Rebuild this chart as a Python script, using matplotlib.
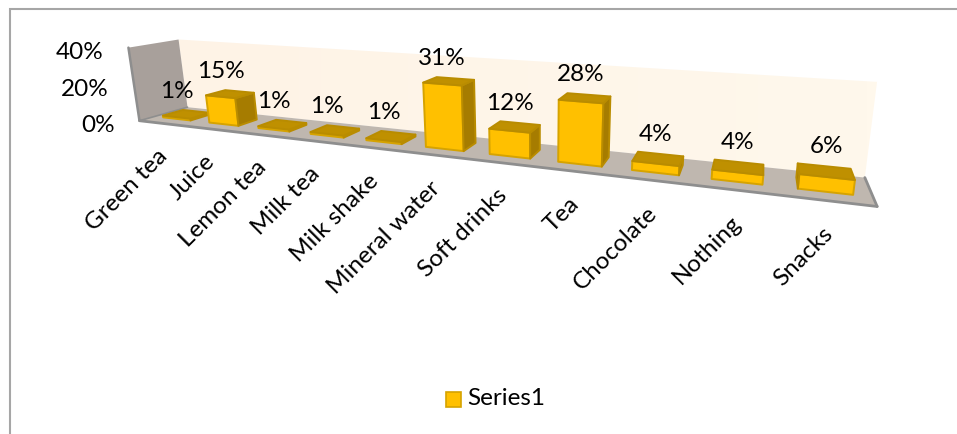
import numpy as np
import matplotlib
matplotlib.use("Agg")
import matplotlib.pyplot as plt
from matplotlib.patches import Polygon, Rectangle

plt.rcParams['font.family'] = ['Lato', 'DejaVu Sans']

categories = ["Green tea", "Juice", "Lemon tea", "Milk tea", "Milk shake",
              "Mineral water", "Soft drinks", "Tea", "Chocolate", "Nothing", "Snacks"]
values = [1, 15, 1, 1, 1, 31, 12, 28, 4, 4, 6]
value_ticks = [0, 20, 40]
series_name = "Series1"

W, H = 957, 435
FRONT = "#FFC000"
TOP = "#BF9000"
SIDE = "#A67C00"
EDGE = "#D6A300"
FONT = 17.5

# Camera calibration: box coordinates (category, depth, percent) -> canvas pixels
box = np.array([[0, 0, 0], [0, 1, 0], [11, 0, 0], [11, 1, 0],
                [0, 0, 40], [0, 1, 40], [11, 1, 40]], float)
canvas = np.array([[140, 122], [187, 108], [877, 208], [865, 178],
                   [128, 48], [179, 41], [877, 83]], float)
rows, rhs = [], []
for (x, d, z), (u, v) in zip(box, canvas):
    rows.append([x, d, z, 1, 0, 0, 0, 0, -u * x, -u * d, -u * z])
    rows.append([0, 0, 0, 0, x, d, z, 1, -v * x, -v * d, -v * z])
    rhs += [u, v]
P = np.append(np.linalg.lstsq(np.array(rows), np.array(rhs), rcond=None)[0], 1).reshape(3, 4)


def project(x, d, z):
    q = P @ np.array([x, d, z, 1.0])
    return q[:2] / q[2]


fig = plt.figure(figsize=(W / 100, H / 100), dpi=100)
ax = fig.add_axes([0, 0, 1, 1])
ax.set_xlim(0, W)
ax.set_ylim(H, 0)
ax.axis("off")

ax.add_patch(Rectangle((10, 10), W, H, fc="white", ec="#A6A6A6", lw=1.5))

# Back wall with a faint horizontal gradient
wall = np.array([project(0, 1, 0), project(11, 1, 0), project(11, 1, 40), project(0, 1, 40)])
wall_poly = Polygon(wall, fc="none", ec="none")
ax.add_patch(wall_poly)
grad = np.linspace(0, 1, 64)[None, :, None]
rgb = np.array([254, 243, 230]) / 255 * (1 - grad) + np.array([255, 248, 236]) / 255 * grad
img = ax.imshow(rgb, extent=(wall[:, 0].min(), wall[:, 0].max(), wall[:, 1].max(), wall[:, 1].min()),
                aspect="auto", zorder=1)
img.set_clip_path(wall_poly)
ax.set_xlim(0, W)
ax.set_ylim(H, 0)

# Side wall and floor
ax.add_patch(Polygon([project(0, 0, 0), project(0, 1, 0), project(0, 1, 40), project(0, 0, 40)],
                     fc="#A8A09B", ec="none", zorder=2))
ax.add_patch(Polygon([project(0, 0, 0), project(11, 0, 0), project(11, 1, 0), project(0, 1, 0)],
                     fc="#BFB7AF", ec="none", zorder=2))
for a, b, lw in [((0, 0, 0), (11, 0, 0), 2.0), ((11, 0, 0), (11, 1, 0), 2.0),
                 ((0, 0, 0), (0, 0, 40), 1.8), ((0, 0, 0), (0, 1, 0), 1.2)]:
    pa, pb = project(*a), project(*b)
    ax.plot([pa[0], pb[0]], [pa[1], pb[1]], color="#8E8E8E", lw=lw, zorder=2.5,
            solid_capstyle="round")

# Bars: only faces turned toward the camera are drawn
WIDTH_FRAC = 0.60
D0, D1 = 0.30, 0.72
for i, val in enumerate(values):
    mid = i + 0.49
    x0, x1 = mid - WIDTH_FRAC / 2, mid + WIDTH_FRAC / 2
    faces = [
        ([(x0, D0, 0), (x1, D0, 0), (x1, D0, val), (x0, D0, val)], FRONT),
        ([(x1, D0, 0), (x1, D1, 0), (x1, D1, val), (x1, D0, val)], SIDE),
        ([(x0, D1, 0), (x0, D0, 0), (x0, D0, val), (x0, D1, val)], SIDE),
        ([(x0, D0, val), (x1, D0, val), (x1, D1, val), (x0, D1, val)], TOP),
    ]
    for pts, colour in faces:
        poly = np.array([project(*p) for p in pts])
        area = 0.5 * np.sum(poly[:, 0] * np.roll(poly[:, 1], -1) - np.roll(poly[:, 0], -1) * poly[:, 1])
        if area < 0:
            ax.add_patch(Polygon(poly, fc=colour, ec=EDGE if colour == FRONT else "#B98C00",
                                 lw=1.4, joinstyle="round", zorder=3 + i * 0.01))
    lx = project(mid, D0, val)[0]
    ly = project(mid, D1, val)[1]
    ax.text(lx, ly - 21, f"{val}%", ha="center", va="center", fontsize=FONT, color="black", zorder=5)
    ex, ey = project(i + 0.5, 0, 0)
    ax.text(ex - 6, ey + 21, categories[i], rotation=45, rotation_mode="anchor",
            ha="right", va="top", fontsize=FONT, color="black", zorder=5)

for t in value_ticks:
    tx, ty = project(0, 0, t)
    ax.text(tx - 25, ty + 4, f"{t}%", ha="right", va="center", fontsize=FONT, color="black")

# Legend
ax.add_patch(Rectangle((445.5, 393), 15, 14.5, fc=FRONT, ec=EDGE, lw=1.2))
ax.text(467, 399, series_name, ha="left", va="center", fontsize=FONT, color="black")

fig.savefig("out.png", dpi=100)
